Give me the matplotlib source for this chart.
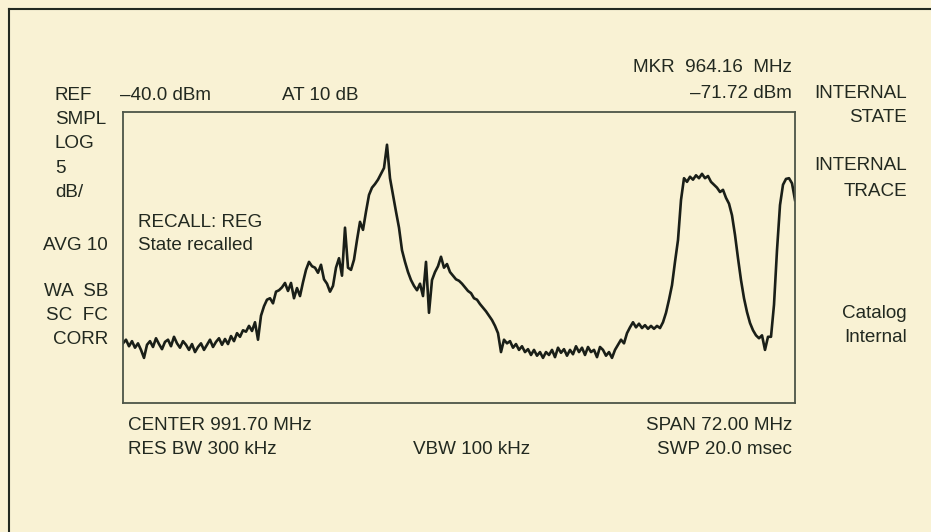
import matplotlib
matplotlib.use("Agg")
import matplotlib.pyplot as plt
import numpy as np
from matplotlib.lines import Line2D

plt.rcParams['font.family'] = ['Liberation Sans', 'DejaVu Sans']

# analyzer settings
center_mhz = 991.70
span_mhz = 72.00
ref_dbm = -40.0
db_per_div = 5
n_div = 8

# trace levels (dBm) left to right, evenly spaced in frequency
levels = [
    -71.8, -71.3, -72.2, -71.5, -72.4, -71.8, -72.7, -73.8, -72.0, -71.5,
    -72.3, -71.1, -71.9, -72.6, -71.6, -71.3, -72.2, -70.9, -71.8, -72.4,
    -71.5, -72.0, -72.7, -71.9, -73.0, -72.3, -71.8, -72.7, -72.0, -71.3,
    -72.3, -71.6, -71.1, -72.0, -71.2, -71.9, -70.8, -71.5, -70.4, -70.9,
    -70.0,
    -70.2, -69.4, -70.1, -68.9, -71.3, -68.0, -66.7, -65.8, -65.6, -66.3,
    -64.7, -64.5, -64.1,
    -63.5, -64.6, -63.5, -65.6, -64.2, -65.3, -63.4, -61.7, -60.6, -61.2,
    -61.4, -62.1, -61.0, -63.0, -63.6, -64.7, -63.9, -61.4, -60.1, -62.5,
    -55.9, -61.4, -61.7, -60.3, -57.6, -55.1, -56.2, -53.7, -51.4, -50.4,
    -49.9, -49.3, -48.5, -47.7, -44.5, -49.1, -51.4, -53.7, -55.9, -59.0,
    -60.6, -62.0, -63.1, -63.9, -64.5, -63.6, -65.3, -60.6, -67.6, -63.1,
    -62.0, -61.2, -59.9, -61.4, -60.9, -62.0, -62.5, -63.0, -63.2, -63.6,
    -64.1, -64.6, -64.9, -65.6, -65.8, -66.4, -66.9, -67.4, -68.0, -68.6,
    -69.4, -70.4, -73.0, -71.3, -71.8, -71.5, -72.4, -71.9, -72.7, -72.2,
    -73.0, -72.6, -73.4, -72.7, -73.5, -73.0, -73.8, -73.0, -73.4, -72.7,
    -73.7, -72.4, -73.1, -72.6, -73.5, -72.7, -73.3, -72.2, -73.0, -72.4,
    -73.4, -72.3, -73.0, -72.7, -73.7, -72.3, -72.7, -73.5, -73.0, -73.8,
    -72.7, -72.0, -71.3, -71.8, -70.4, -69.6, -68.9, -69.6, -69.1, -69.7,
    -69.3, -69.8, -69.4, -69.8, -69.4, -69.7, -68.9, -67.6, -65.8, -63.8,
    -60.6, -57.6, -52.1, -49.1, -49.6, -48.9, -49.3, -48.7, -49.1, -48.5,
    -49.1, -48.8, -49.6, -50.0, -50.4, -51.0, -50.7, -51.8, -52.6, -54.2,
    -56.9, -60.1, -63.1, -65.6, -67.5, -69.0, -70.0, -70.7, -71.1, -70.7,
    -72.7, -70.9, -70.9, -66.5, -59.0, -52.8, -50.0, -49.2, -49.1, -49.8,
    -52.1,
]

left_labels = ["REF", "SMPL", "LOG", "5", "dB/"]
lower_labels = ["AVG 10", "WA  SB", "SC  FC", "CORR"]

W, H = 931, 532
bg = "#f9f2d4"
ink = "#222920"

fig = plt.figure(figsize=(W / 100, H / 100), dpi=100, facecolor=bg)

# graticule area of the screen
ax = fig.add_axes([123 / W, 1 - 403 / H, 672 / W, 291 / H])
ax.set_facecolor(bg)
f_start = center_mhz - span_mhz / 2
f_stop = center_mhz + span_mhz / 2
freqs = np.linspace(f_start, f_stop, len(levels))
ax.plot(freqs, levels, color="#1a1f18", lw=1.9, solid_joinstyle="round")
ax.set_xlim(f_start, f_stop)
ax.set_ylim(ref_dbm - db_per_div * n_div, ref_dbm)
ax.set_xticks([])
ax.set_yticks([])
for s in ax.spines.values():
    s.set_color("#4d5548")
    s.set_linewidth(1.3)

# outer frame of the photo
fig.add_artist(Line2D([8.5 / W, 8.5 / W], [0, 1 - 8.5 / H], transform=fig.transFigure,
                      color=ink, lw=1.5))
fig.add_artist(Line2D([8.5 / W, 1], [1 - 8.5 / H, 1 - 8.5 / H], transform=fig.transFigure,
                      color=ink, lw=1.5))


def txt(x, y, s, ha="left"):
    fig.text(x / W, 1 - y / H, s, ha=ha, va="center", fontsize=13.6, color=ink)


for i, s in enumerate(left_labels):
    txt(55, 95 + i * 24.5, s)
for y, s in zip([246, 291, 315, 339], lower_labels):
    txt(108, y, s, ha="right")

txt(120, 95, "\u201340.0 dBm")
txt(282, 95, "AT 10 dB")
txt(138, 222, "RECALL: REG")
txt(138, 246, "State recalled")

txt(792, 68, "MKR  964.16  MHz", ha="right")
txt(792, 93, "\u201371.72 dBm", ha="right")

txt(907, 93, "INTERNAL", ha="right")
txt(907, 118, "STATE", ha="right")
txt(907, 166, "INTERNAL", ha="right")
txt(907, 192, "TRACE", ha="right")
txt(907, 313, "Catalog", ha="right")
txt(907, 337, "Internal", ha="right")

txt(128, 426, "CENTER 991.70 MHz")
txt(128, 450, "RES BW 300 kHz")
txt(413, 450, "VBW 100 kHz")
txt(792, 426, "SPAN 72.00 MHz", ha="right")
txt(792, 450, "SWP 20.0 msec", ha="right")

fig.savefig("out.png", dpi=100, facecolor=bg)
